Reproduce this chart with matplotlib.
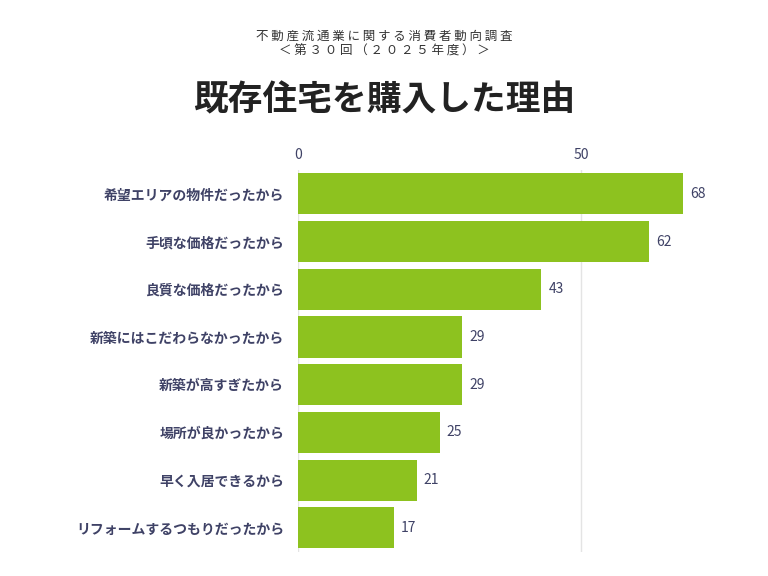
import matplotlib
matplotlib.use("Agg")
import matplotlib.pyplot as plt

plt.rcParams['font.family'] = ['Noto Sans CJK JP', 'DejaVu Sans']

categories = ["希望エリアの物件だったから", "手頃な価格だったから", "良質な価格だったから",
              "新築にはこだわらなかったから", "新築が高すぎたから", "場所が良かったから",
              "早く入居できるから", "リフォームするつもりだったから"]
values = [68, 62, 43, 29, 29, 25, 21, 17]
ticks = [0, 50]

fig = plt.figure(figsize=(7.68, 5.76), dpi=100)
ax = fig.add_axes([0.388, 0.042, 0.553, 0.663])
ypos = list(range(len(values)))
ax.barh(ypos, values, height=0.86, color='#8dc21f', zorder=2)
for y, v in zip(ypos, values):
    ax.text(v + 1.2, y, str(v), va='center', ha='left', fontsize=10, color='#3f4266')
ax.set_yticks(ypos)
ax.set_yticklabels(categories, fontsize=10, color='#3f4266', fontweight='bold')
ax.set_ylim(len(values) - 0.5, -0.5)
ax.set_xlim(0, 75)
ax.set_xticks(ticks)
ax.xaxis.tick_top()
ax.tick_params(axis='x', length=0, labelsize=10, labelcolor='#3f4266', pad=6)
ax.tick_params(axis='y', length=0, pad=10)
ax.grid(axis='x', color='#e4e4e4', linewidth=1, zorder=0)
for s in ax.spines.values():
    s.set_visible(False)

fig.text(0.5, 1 - 36/576, "不 動 産 流 通 業 に 関 す る 消 費 者 動 向 調 査", ha='center', va='center', fontsize=9, color='#333333')
fig.text(0.5, 1 - 51/576, "＜ 第 ３ ０ 回 （ ２ ０ ２ ５ 年 度 ） ＞", ha='center', va='center', fontsize=9, color='#333333')
fig.text(0.5, 1 - 100/576, "既存住宅を購入した理由", ha='center', va='center', fontsize=25, fontweight='bold', color='#222222')

fig.savefig("out.png", dpi=100)
